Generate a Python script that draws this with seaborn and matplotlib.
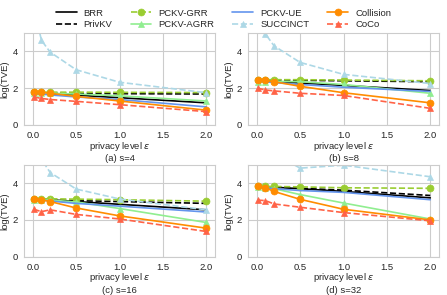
import matplotlib
matplotlib.use("Agg")
import matplotlib.pyplot as plt
import seaborn as sns

# privacy budgets on the x axis
eps = [0.01, 0.1, 0.2, 0.5, 1.0, 2.0]

methods = ["BRR", "PrivKV", "PCKV-GRR", "PCKV-AGRR", "PCKV-UE", "SUCCINCT", "Collision", "CoCo"]
panel_titles = ["(a) s=4", "(b) s=8", "(c) s=16", "(d) s=32"]

# log(TVE), one list per method and panel
s4 = {
    "BRR":       [1.75, 1.73, 1.70, 1.62, 1.48, 1.20],
    "PrivKV":    [1.75, 1.74, 1.73, 1.72, 1.70, 1.68],
    "PCKV-GRR":  [1.78, 1.78, 1.78, 1.78, 1.77, 1.76],
    "PCKV-AGRR": [1.74, 1.73, 1.72, 1.68, 1.58, 1.30],
    "PCKV-UE":   [1.72, 1.68, 1.63, 1.52, 1.38, 0.98],
    "SUCCINCT":  [6.40, 4.60, 3.96, 3.00, 2.32, 1.75],
    "Collision": [1.80, 1.78, 1.72, 1.55, 1.30, 0.80],
    "CoCo":      [1.52, 1.44, 1.38, 1.28, 1.10, 0.72],
}
s8 = {
    "BRR":       [2.42, 2.40, 2.37, 2.28, 2.15, 1.87],
    "PrivKV":    [2.45, 2.45, 2.44, 2.43, 2.40, 2.35],
    "PCKV-GRR":  [2.46, 2.46, 2.46, 2.46, 2.44, 2.40],
    "PCKV-AGRR": [2.35, 2.36, 2.37, 2.35, 2.20, 1.72],
    "PCKV-UE":   [2.38, 2.35, 2.30, 2.20, 2.05, 1.82],
    "SUCCINCT":  [6.20, 4.95, 4.30, 3.40, 2.75, 2.25],
    "Collision": [2.45, 2.42, 2.35, 2.10, 1.75, 1.20],
    "CoCo":      [2.00, 1.90, 1.85, 1.72, 1.60, 0.90],
}
s16 = {
    "BRR":       [3.15, 3.12, 3.10, 3.00, 2.85, 2.55],
    "PrivKV":    [3.10, 3.10, 3.09, 3.05, 3.00, 2.90],
    "PCKV-GRR":  [3.15, 3.15, 3.15, 3.13, 3.10, 3.02],
    "PCKV-AGRR": [3.10, 3.10, 3.08, 2.98, 2.62, 1.86],
    "PCKV-UE":   [3.12, 3.08, 3.03, 2.90, 2.75, 2.43],
    "SUCCINCT":  [6.50, 5.30, 4.58, 3.68, 3.14, 2.55],
    "Collision": [3.15, 3.10, 3.00, 2.65, 2.22, 1.55],
    "CoCo":      [2.58, 2.45, 2.55, 2.30, 2.05, 1.37],
}
s32 = {
    "BRR":       [3.82, 3.80, 3.78, 3.70, 3.55, 3.20],
    "PrivKV":    [3.80, 3.80, 3.79, 3.72, 3.62, 3.33],
    "PCKV-GRR":  [3.82, 3.82, 3.82, 3.80, 3.75, 3.72],
    "PCKV-AGRR": [3.80, 3.76, 3.70, 3.38, 2.92, 2.05],
    "PCKV-UE":   [3.76, 3.74, 3.70, 3.60, 3.50, 3.10],
    "SUCCINCT":  [7.00, 6.20, 5.60, 4.82, 4.98, 4.35],
    "Collision": [3.82, 3.75, 3.55, 3.12, 2.58, 2.00],
    "CoCo":      [3.08, 3.05, 2.87, 2.69, 2.40, 1.95],
}
panels = [s4, s8, s16, s32]

styles = {
    "BRR":       dict(color="black", linestyle="-", marker=None),
    "PrivKV":    dict(color="black", linestyle="--", marker=None),
    "PCKV-GRR":  dict(color="yellowgreen", linestyle="--", marker="o"),
    "PCKV-AGRR": dict(color="lightgreen", linestyle="-", marker="^"),
    "PCKV-UE":   dict(color="cornflowerblue", linestyle="-", marker=None),
    "SUCCINCT":  dict(color="lightblue", linestyle="--", marker="^"),
    "Collision": dict(color="darkorange", linestyle="-", marker="o"),
    "CoCo":      dict(color="tomato", linestyle="--", marker="^"),
}

sns.set_style("whitegrid")
plt.rcParams["font.family"] = ["Liberation Sans", "DejaVu Sans"]
plt.rcParams["font.size"] = 6.8

fig, axes = plt.subplots(2, 2, figsize=(4.47, 2.95), dpi=100)
fig.subplots_adjust(left=0.054, right=0.982, top=0.888, bottom=0.130, wspace=0.173, hspace=0.435)

for ax, data, title in zip(axes.flat, panels, panel_titles):
    for m in methods:
        st = styles[m]
        sns.lineplot(x=eps, y=data[m], ax=ax, label=m, color=st["color"], linestyle=st["linestyle"],
                     marker=st["marker"], markersize=5, markeredgecolor=st["color"],
                     markeredgewidth=0.5, linewidth=1.2)
    ax.set_ylim(0, 5)
    ax.set_xlim(-0.1, 2.1)
    ax.set_xticks([0.0, 0.5, 1.0, 1.5, 2.0])
    ax.set_yticks([0, 2, 4])
    ax.tick_params(labelsize=6.8, pad=1)
    ax.set_xlabel("privacy level $\\varepsilon$", fontsize=6.8, labelpad=-0.3)
    ax.set_ylabel("log(TVE)", fontsize=6.8, labelpad=2)
    ax.text(0.5, -0.365, title, transform=ax.transAxes, ha="center", va="center", fontsize=6.8)
    ax.get_legend().remove()

handles, labels = axes[0, 0].get_legend_handles_labels()
fig.legend(handles, labels, loc="upper center", bbox_to_anchor=(0.5, 1.0), ncol=4, frameon=False,
           fontsize=6.8, columnspacing=1.9, handletextpad=0.75, labelspacing=0.3, handlelength=2.2)

fig.savefig("out.png", dpi=100)
